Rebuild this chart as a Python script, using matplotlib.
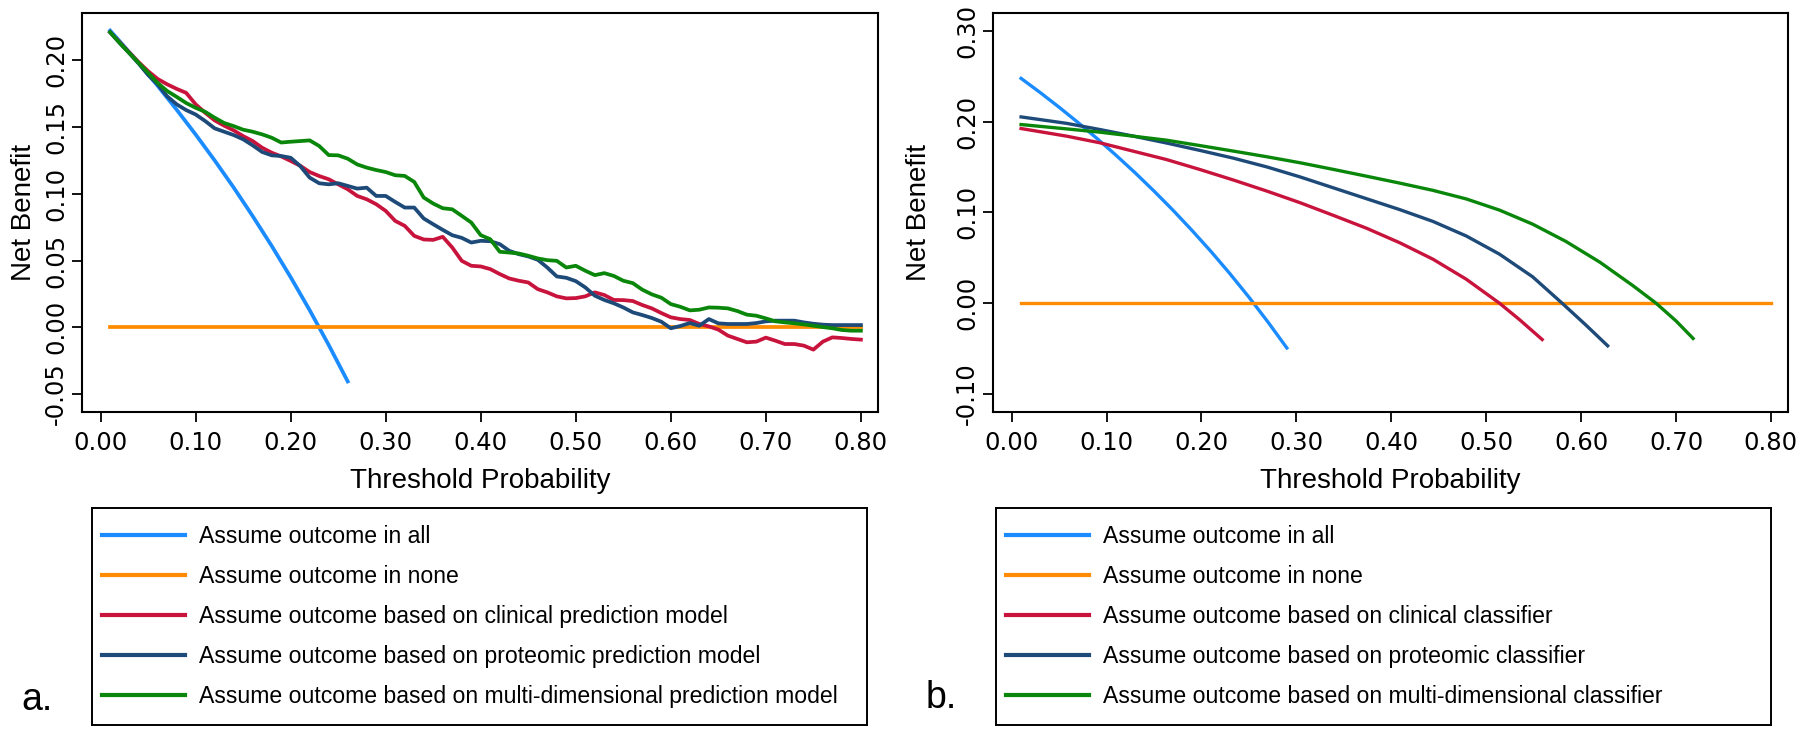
import matplotlib as mpl
import matplotlib.pyplot as plt
from matplotlib.lines import Line2D

mpl.rcParams.update({
    "font.family": ["Liberation Sans", "DejaVu Sans"],
    "axes.linewidth": 1.5,
    "xtick.major.width": 1.3,
    "ytick.major.width": 1.3,
})

BLUE = "#1A8CFF"
ORANGE = "#FF8C00"
RED = "#C8143C"
NAVY = "#1D4A78"
GREEN = "#0A870A"

# ---- panel a: threshold grid and net benefit values ----
t_a = [0.01, 0.02, 0.03, 0.04, 0.05, 0.06, 0.07, 0.08, 0.09, 0.10,
       0.11, 0.12, 0.13, 0.14, 0.15, 0.16, 0.17, 0.18, 0.19, 0.20,
       0.21, 0.22, 0.23, 0.24, 0.25, 0.26, 0.27, 0.28, 0.29, 0.30,
       0.31, 0.32, 0.33, 0.34, 0.35, 0.36, 0.37, 0.38, 0.39, 0.40,
       0.41, 0.42, 0.43, 0.44, 0.45, 0.46, 0.47, 0.48, 0.49, 0.50,
       0.51, 0.52, 0.53, 0.54, 0.55, 0.56, 0.57, 0.58, 0.59, 0.60,
       0.61, 0.62, 0.63, 0.64, 0.65, 0.66, 0.67, 0.68, 0.69, 0.70,
       0.71, 0.72, 0.73, 0.74, 0.75, 0.76, 0.77, 0.78, 0.79, 0.80]

clinical_a = [0.221, 0.2135, 0.206, 0.1986, 0.1918, 0.186, 0.182, 0.1786, 0.1756, 0.167,
              0.1607, 0.155, 0.151, 0.1475, 0.1432, 0.1395, 0.1345, 0.1308, 0.128, 0.1246,
              0.121, 0.1163, 0.1133, 0.1109, 0.1071, 0.1034, 0.0984, 0.0959, 0.0922, 0.0872,
              0.0797, 0.076, 0.0685, 0.0658, 0.0655, 0.0678, 0.0598, 0.0498, 0.0461, 0.0456,
              0.0436, 0.0399, 0.0366, 0.0349, 0.0336, 0.0286, 0.0262, 0.0232, 0.0217, 0.0219,
              0.0232, 0.0262, 0.0242, 0.0205, 0.0204, 0.0197, 0.0167, 0.0142, 0.0107, 0.0075,
              0.0062, 0.0055, 0.0025, 0.0007, -0.0017, -0.0062, -0.0087, -0.0112, -0.0107, -0.0077,
              -0.010, -0.0125, -0.0125, -0.0137, -0.0167, -0.0107, -0.0075, -0.008, -0.0087, -0.0092]

proteomic_a = [0.221, 0.213, 0.2055, 0.1976, 0.189, 0.182, 0.173, 0.167, 0.1627, 0.1594,
               0.1545, 0.149, 0.1465, 0.144, 0.1408, 0.1363, 0.1313, 0.1288, 0.1283, 0.127,
               0.1208, 0.1121, 0.1079, 0.1071, 0.1079, 0.1059, 0.1039, 0.1046, 0.0984, 0.0984,
               0.0939, 0.0897, 0.0897, 0.0815, 0.0772, 0.073, 0.069, 0.067, 0.0635, 0.0648,
               0.0645, 0.0623, 0.0573, 0.0548, 0.0531, 0.0506, 0.0448, 0.0381, 0.0371, 0.0346,
               0.0299, 0.0237, 0.0205, 0.018, 0.0149, 0.0112, 0.0092, 0.007, 0.0042, -0.0007,
               0.001, 0.0032, 0.0012, 0.0062, 0.003, 0.0025, 0.0025, 0.0025, 0.0032, 0.0045,
               0.005, 0.005, 0.005, 0.0037, 0.0027, 0.002, 0.0017, 0.0017, 0.0017, 0.0017]

multi_a = [0.221, 0.213, 0.2055, 0.198, 0.1906, 0.183, 0.177, 0.1726, 0.168, 0.1644,
           0.1614, 0.157, 0.153, 0.1507, 0.148, 0.1465, 0.1445, 0.142, 0.1384, 0.139,
           0.1395, 0.140, 0.1358, 0.129, 0.1288, 0.1263, 0.122, 0.1196, 0.1178, 0.1163,
           0.1139, 0.1134, 0.1089, 0.0972, 0.0927, 0.0892, 0.0884, 0.0835, 0.0785, 0.069,
           0.066, 0.0566, 0.056, 0.0553, 0.0536, 0.0516, 0.0503, 0.0498, 0.0448, 0.0461,
           0.0424, 0.0391, 0.0406, 0.0385, 0.0349, 0.0331, 0.0282, 0.0247, 0.0222, 0.0174,
           0.0154, 0.0127, 0.0132, 0.0149, 0.0147, 0.0142, 0.0122, 0.0095, 0.0087, 0.0067,
           0.0045, 0.0037, 0.003, 0.0022, 0.0012, 0.0002, -0.0007, -0.002, -0.0025, -0.0025]

t_all_a = [0.01, 0.02, 0.04, 0.06, 0.08, 0.10, 0.12, 0.14, 0.16, 0.18, 0.20, 0.22, 0.24, 0.26]
all_a = [0.2222, 0.2143, 0.1979, 0.1809, 0.1630, 0.1444, 0.1250, 0.1047, 0.0833, 0.0610,
         0.0375, 0.0128, -0.0132, -0.0405]

# ---- panel b: smooth curves read at a handful of thresholds ----
t_all_b = [0.01, 0.03, 0.05, 0.07, 0.09, 0.11, 0.13, 0.15, 0.17, 0.19, 0.21, 0.23, 0.25, 0.27, 0.29]
all_b = [0.2475, 0.2320, 0.2158, 0.1989, 0.1813, 0.1629, 0.1437, 0.1235, 0.1024, 0.0802,
         0.0570, 0.0325, 0.0067, -0.0206, -0.0493]

t_clin_b = [0.01, 0.058, 0.093, 0.128, 0.163, 0.198, 0.234, 0.269, 0.304, 0.339, 0.374,
            0.409, 0.444, 0.479, 0.514, 0.535, 0.559]
clinical_b = [0.1923, 0.1839, 0.1766, 0.1674, 0.1582, 0.1473, 0.1355, 0.1234, 0.1106, 0.0967,
              0.0825, 0.0665, 0.0484, 0.0264, 0.0, -0.0180, -0.0400]

t_prot_b = [0.01, 0.058, 0.093, 0.128, 0.163, 0.198, 0.234, 0.269, 0.304, 0.339, 0.374,
            0.409, 0.444, 0.479, 0.514, 0.549, 0.580, 0.605, 0.628]
proteomic_b = [0.2051, 0.1980, 0.1912, 0.1840, 0.1764, 0.1683, 0.1596, 0.1500, 0.1390, 0.1270,
               0.1150, 0.1030, 0.0900, 0.0740, 0.0540, 0.0290, 0.0, -0.0240, -0.0469]

t_multi_b = [0.01, 0.058, 0.093, 0.128, 0.163, 0.198, 0.234, 0.269, 0.304, 0.339, 0.374,
             0.409, 0.444, 0.479, 0.514, 0.549, 0.584, 0.620, 0.655, 0.679, 0.700, 0.718]
multi_b = [0.1967, 0.1919, 0.1883, 0.1839, 0.1795, 0.1736, 0.1674, 0.1612, 0.1546, 0.1473,
           0.1398, 0.1322, 0.1242, 0.1148, 0.1025, 0.0870, 0.0680, 0.0450, 0.0190, 0.0,
           -0.0195, -0.0388]

t_none = [0.01, 0.80]
none_nb = [0.0, 0.0]

x_ticks = [0.0, 0.1, 0.2, 0.3, 0.4, 0.5, 0.6, 0.7, 0.8]
y_ticks_a = [-0.05, 0.0, 0.05, 0.10, 0.15, 0.20]
y_ticks_b = [-0.10, 0.0, 0.10, 0.20, 0.30]

labels_a = ["Assume outcome in all", "Assume outcome in none",
            "Assume outcome based on clinical prediction model",
            "Assume outcome based on proteomic prediction model",
            "Assume outcome based on multi-dimensional prediction model"]
labels_b = ["Assume outcome in all", "Assume outcome in none",
            "Assume outcome based on clinical classifier",
            "Assume outcome based on proteomic classifier",
            "Assume outcome based on multi-dimensional classifier"]
colors = [BLUE, ORANGE, RED, NAVY, GREEN]

W, H = 1800, 729
fig = plt.figure(figsize=(W / 100, H / 100), dpi=100)


def px_axes(x0, x1, y0, y1):
    return fig.add_axes([x0 / W, 1 - y1 / H, (x1 - x0) / W, (y1 - y0) / H])


def style_axes(ax, yticks, ylim, ylabelpad):
    ax.set_xlim(-0.0196, 0.818)
    ax.set_ylim(*ylim)
    ax.set_xticks(x_ticks)
    ax.set_xticklabels([f"{v:.2f}" for v in x_ticks], family="DejaVu Sans")
    ax.set_yticks(yticks)
    ax.set_yticklabels([f"{v:.2f}" for v in yticks], rotation=90, va="center",
                       family="DejaVu Sans")
    ax.tick_params(axis="both", direction="out", length=7, labelsize=17.5)
    ax.tick_params(axis="x", pad=7)
    ax.tick_params(axis="y", pad=3)
    ax.set_xlabel("Threshold Probability", fontsize=20, labelpad=9)
    ax.set_ylabel("Net Benefit", fontsize=20, labelpad=ylabelpad)


lw_a = 2.7
ax_a = px_axes(82, 878, 13, 412)
ax_a.plot(t_all_a, all_a, color=BLUE, lw=lw_a)
ax_a.plot(t_none, none_nb, color=ORANGE, lw=lw_a)
ax_a.plot(t_a, clinical_a, color=RED, lw=lw_a)
ax_a.plot(t_a, proteomic_a, color=NAVY, lw=lw_a)
ax_a.plot(t_a, multi_a, color=GREEN, lw=lw_a)
style_axes(ax_a, y_ticks_a, (-0.0634, 0.2354), 5)

lw_b = 2.4
ax_b = px_axes(993, 1788, 13, 412)
ax_b.plot(t_all_b, all_b, color=BLUE, lw=lw_b)
ax_b.plot(t_none, none_nb, color=ORANGE, lw=lw_b)
ax_b.plot(t_clin_b, clinical_b, color=RED, lw=lw_b)
ax_b.plot(t_prot_b, proteomic_b, color=NAVY, lw=lw_b)
ax_b.plot(t_multi_b, multi_b, color=GREEN, lw=lw_b)
style_axes(ax_b, y_ticks_b, (-0.1198, 0.3195), 17)


def legend_box(x0, x1, labels):
    lax = px_axes(x0, x1, 508, 725)
    lax.set_xticks([]); lax.set_yticks([])
    for s in lax.spines.values():
        s.set_linewidth(1.4)
    handles = [Line2D([0], [0], color=c, lw=3) for c in colors]
    lax.legend(handles, labels, loc="center left", frameon=False, fontsize=16.6,
               handlelength=3.6, handletextpad=0.6, labelspacing=0.73,
               borderaxespad=0.15, borderpad=0.3)


legend_box(92, 867, labels_a)
legend_box(996, 1771, labels_b)

fig.text(37 / W, 1 - 700 / H, "a.", fontsize=27, ha="center", va="center")
fig.text(941 / W, 1 - 698 / H, "b.", fontsize=27, ha="center", va="center")

fig.savefig("out.png", dpi=100)
